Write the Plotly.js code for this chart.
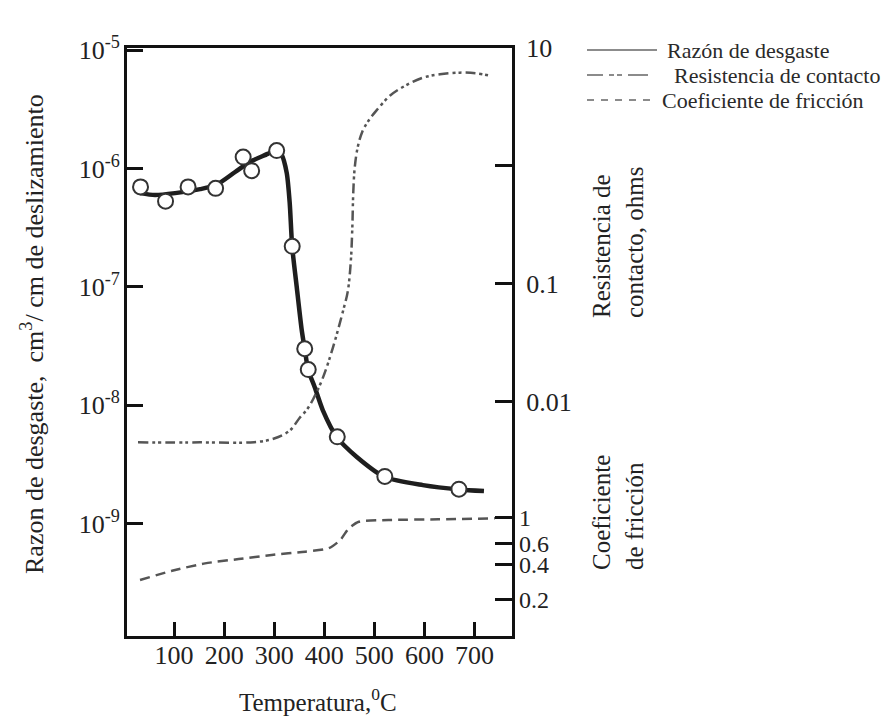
<!DOCTYPE html>
<html>
<head>
<meta charset="utf-8">
<script src="https://cdn.plot.ly/plotly-3.0.1.min.js"></script>
<style>html,body{margin:0;padding:0;background:#fff;}#chart{width:890px;height:719px;}</style>
</head>
<body>
<div id="chart"></div>
<script>
// ---- Data ----
const seriesNames = ['Razón de desgaste', 'Resistencia de contacto', 'Coeficiente de fricción'];

// Wear rate: measured points (open circles)
const wearTempPts = [33, 83, 128, 183, 238, 255, 305, 336, 361, 368, 426, 521, 669];
const wearRatePts = [7.0e-7, 5.3e-7, 7.0e-7, 6.8e-7, 1.25e-6, 9.6e-7, 1.42e-6, 2.2e-7, 3.0e-8, 2.0e-8, 5.4e-9, 2.5e-9, 1.95e-9];

// Wear rate: fitted curve
const wearCurveTemp = [32, 62, 102, 152, 184, 222, 251, 287, 303, 315, 325, 331, 336, 345, 355, 361, 368, 381, 397, 425, 465, 521, 597, 669, 719];
const wearCurveRate = [6.2e-7, 5.97e-7, 6.2e-7, 6.7e-7, 7.26e-7, 9.35e-7, 1.135e-6, 1.33e-6, 1.435e-6, 1.30e-6, 9.18e-7, 5.12e-7, 2.18e-7, 1.0e-7, 4.31e-8, 2.98e-8, 1.98e-8, 1.42e-8, 9.1e-9, 5.38e-9, 3.65e-9, 2.47e-9, 2.11e-9, 1.94e-9, 1.88e-9];

// Contact resistance (ohms)
const resTemp = [28, 152, 260, 300, 331, 351, 365, 378, 397, 417, 439, 447, 453, 456, 458, 461, 467, 476, 488, 504, 531, 561, 598, 631, 671, 704, 732];
const resOhm = [0.0045, 0.0045, 0.00452, 0.00485, 0.00566, 0.00728, 0.0085, 0.0105, 0.0158, 0.0284, 0.062, 0.086, 0.154, 0.294, 0.60, 0.98, 1.45, 1.95, 2.4, 2.94, 3.93, 4.77, 5.61, 5.98, 6.18, 6.10, 5.80];

// Friction coefficient
const fricTemp = [32, 96, 162, 229, 295, 362, 409, 432, 449, 469, 528, 628, 741];
const fricCoef = [0.295, 0.353, 0.408, 0.444, 0.481, 0.513, 0.548, 0.644, 0.81, 0.921, 0.952, 0.965, 0.984];

// Ticks
const xTicks = [100, 200, 300, 400, 500, 600, 700];
const wearTicks = [1e-9, 1e-8, 1e-7, 1e-6, 1e-5];
const wearTickText = ['10<sup>-9</sup>', '10<sup>-8</sup>', '10<sup>-7</sup>', '10<sup>-6</sup>', '10<sup>-5</sup>'];
const resTicks = [10, 1, 0.1, 0.01];
const resTickText = ['10', '', '0.1', '0.01'];
const fricTicks = [1, 0.6, 0.4, 0.2];
const fricTickText = ['1', '0.6', '0.4', '0.2'];

// ---- Styles ----
const FONT = "'Liberation Serif', 'Times New Roman', serif";
const INK = '#1e1e1e';
const GRAY = '#555555';
const resDash = '10px,4px,3px,3px,3px,4px';
const fricDash = '10px,6px';

const traces = [
  { x: wearCurveTemp, y: wearCurveRate, type: 'scatter', mode: 'lines', name: seriesNames[0],
    line: { color: INK, width: 4.5, shape: 'spline', smoothing: 0.7 }, xaxis: 'x', yaxis: 'y', hoverinfo: 'skip' },
  { x: wearTempPts, y: wearRatePts, type: 'scatter', mode: 'markers', name: seriesNames[0],
    marker: { symbol: 'circle', size: 15, color: 'white', line: { color: '#333', width: 2 } }, xaxis: 'x', yaxis: 'y' },
  { x: resTemp, y: resOhm, type: 'scatter', mode: 'lines', name: seriesNames[1],
    line: { color: GRAY, width: 2.5, dash: resDash, shape: 'spline', smoothing: 1.0 }, xaxis: 'x', yaxis: 'y2' },
  { x: fricTemp, y: fricCoef, type: 'scatter', mode: 'lines', name: seriesNames[2],
    line: { color: GRAY, width: 2.5, dash: fricDash, shape: 'spline', smoothing: 0.6 }, xaxis: 'x', yaxis: 'y3' }
];

const axisCommon = { showgrid: false, zeroline: false, ticks: 'inside', tickcolor: '#111', tickwidth: 3,
  linecolor: '#111', linewidth: 3, tickfont: { family: FONT, size: 26, color: '#222' } };

const W = 385, H = 588, L = 127, T = 48;
const px = v => (v - L) / W;          // pixel -> paper x
const py = v => (T + H - v) / H;      // pixel -> paper y

const legendRows = [
  { y: 50, x1: 657, tx: 665, dash: 'solid' },
  { y: 75, x1: 650, tx: 672, dash: '16px,6px,5px,3px,5px,6px,20px' },
  { y: 100, x1: 651, tx: 660, dash: '7px,7px' }
];

const shapes = legendRows.map(r => ({
  type: 'line', xref: 'paper', yref: 'paper', x0: px(587), x1: px(r.x1), y0: py(r.y), y1: py(r.y),
  line: { color: '#666', width: 1.5, dash: r.dash }
}));

const annotations = legendRows.map((r, i) => ({
  xref: 'paper', yref: 'paper', x: px(r.tx), y: py(r.y), xanchor: 'left', yanchor: 'middle',
  text: seriesNames[i], showarrow: false, font: { family: FONT, size: 22, color: '#2a2a2a' }
}));

annotations.push(
  { xref: 'paper', yref: 'paper', x: px(318), y: py(700), xanchor: 'center', yanchor: 'middle', showarrow: false,
    text: 'Temperatura,<sup>0</sup>C', font: { family: FONT, size: 25, color: '#222' } },
  { xref: 'paper', yref: 'paper', x: px(32), y: py(334), xanchor: 'center', yanchor: 'middle', showarrow: false,
    textangle: -90, text: 'Razon de desgaste,&nbsp; cm<sup>3</sup>/ cm de deslizamiento', font: { family: FONT, size: 26, color: '#222' } },
  { xref: 'paper', yref: 'paper', x: px(618), y: py(243), xanchor: 'center', yanchor: 'middle', showarrow: false,
    textangle: -90, align: 'left', text: 'Resistencia de<br>contacto, ohms', font: { family: FONT, size: 25, color: '#222' } },
  { xref: 'paper', yref: 'paper', x: px(618), y: py(513), xanchor: 'center', yanchor: 'middle', showarrow: false,
    textangle: -90, align: 'left', text: 'Coeficiente<br>de fricción', font: { family: FONT, size: 25, color: '#222' } }
);

const layout = {
  width: 890, height: 719,
  margin: { l: L, r: 890 - L - W, t: T, b: 719 - T - H, pad: 0 },
  paper_bgcolor: 'white', plot_bgcolor: 'white',
  showlegend: false,
  font: { family: FONT, size: 25, color: '#222' },
  xaxis: Object.assign({}, axisCommon, { range: [6, 775], tickvals: xTicks, ticklen: 14, showline: true, mirror: true,
    ticklabelstandoff: -6 }),
  yaxis: Object.assign({}, axisCommon, { type: 'log', range: [-9.951, -4.981], tickvals: wearTicks, ticktext: wearTickText,
    ticklen: 16, showline: true, mirror: false, ticklabelstandoff: -1 }),
  yaxis2: Object.assign({}, axisCommon, { type: 'log', overlaying: 'y', side: 'right', anchor: 'x', range: [-3.99, 1.0],
    tickvals: resTicks, ticktext: resTickText, ticklen: 17, showline: true, ticklabelstandoff: 6 }),
  yaxis3: Object.assign({}, axisCommon, { type: 'log', overlaying: 'y', side: 'right', anchor: 'x', range: [-1.006, 3.986],
    tickvals: fricTicks, ticktext: fricTickText, ticklen: 17, showline: false, ticklabelstandoff: 6,
    tickfont: { family: FONT, size: 24, color: '#222' } }),
  shapes: shapes,
  annotations: annotations
};

Plotly.newPlot('chart', traces, layout, { staticPlot: true, displayModeBar: false });
</script>
</body>
</html>
